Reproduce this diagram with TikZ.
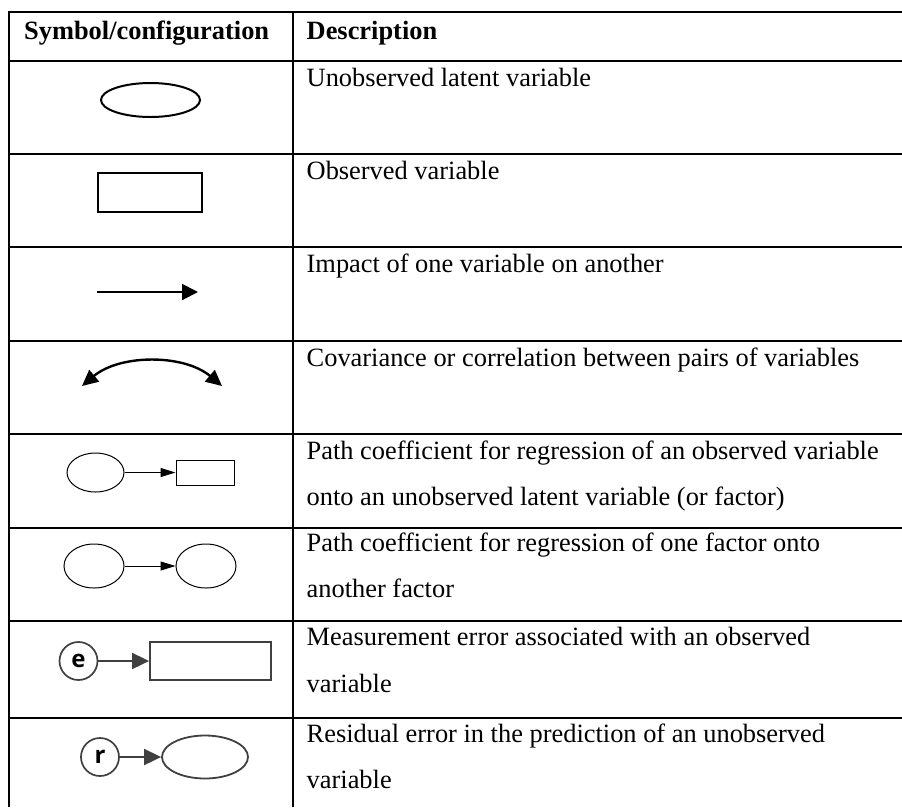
\documentclass[tikz,border=0pt]{standalone}
\usepackage{fontspec}
\setmainfont{Liberation Serif}
\newfontfamily\errfont{Open Sans}
\usetikzlibrary{shapes.geometric,arrows.meta}

\newlength{\du}
\setlength{\du}{1pt}
\definecolor{dialinecolor}{rgb}{0.000000, 0.000000, 0.000000}
\definecolor{errcolor}{rgb}{0.250000, 0.250000, 0.250000}

\tikzset{
  rule/.style={draw=dialinecolor, line width=2\du},
  desc/.style={anchor=base west, inner sep=0pt, font=\fontsize{26.4}{30}\selectfont},
  headtext/.style={desc, font=\fontsize{26.4}{30}\selectfont\bfseries},
  latent/.style={draw=dialinecolor, ellipse, inner sep=0pt},
  observed/.style={draw=dialinecolor, rectangle, inner sep=0pt},
  errnode/.style={draw=errcolor, circle, inner sep=0pt, minimum size=38\du,
    line width=1.7\du, font=\errfont\bfseries\fontsize{24}{24}\selectfont},
  bigtip/.style={line width=2\du, -{Triangle[length=16pt,width=16pt]}},
  thintip/.style={line width=1\du, -{Triangle[length=15pt,width=9pt]}},
  errtip/.style={draw=errcolor, line width=1.8\du,
    -{Triangle[length=17pt,width=16pt]}, errcolor},
}

\begin{document}
\begin{tikzpicture}
\pgftransformxscale{1.000000}
\pgftransformyscale{-1.000000}
\fill[white] (0\du,0\du) rectangle (902\du,807\du);
\useasboundingbox (0\du,0\du) rectangle (902\du,807\du);
% table rules
\draw[rule] (8.5\du,12\du)--(902\du,12\du);
\draw[rule] (8.5\du,61\du)--(902\du,61\du);
\draw[rule] (8.5\du,154\du)--(902\du,154\du);
\draw[rule] (8.5\du,247\du)--(902\du,247\du);
\draw[rule] (8.5\du,341\du)--(902\du,341\du);
\draw[rule] (8.5\du,434\du)--(902\du,434\du);
\draw[rule] (8.5\du,528\du)--(902\du,528\du);
\draw[rule] (8.5\du,621\du)--(902\du,621\du);
\draw[rule] (8.5\du,718\du)--(902\du,718\du);
\draw[rule] (8.5\du,11\du)--(8.5\du,807\du);
\draw[rule] (293.3\du,11\du)--(293.3\du,807\du);
% header
\node[headtext] (hsym) at (24\du,39\du){Symbol/configuration};
\node[headtext] (hdesc) at (306.5\du,39\du){Description};
% descriptions
\node[desc] (d1) at (306.5\du,86\du){Unobserved latent variable};
\node[desc] (d2) at (306.5\du,179\du){Observed variable};
\node[desc] (d3) at (306.5\du,272\du){Impact of one variable on another};
\node[desc] (d4) at (306.5\du,366\du){Covariance or correlation between pairs of variables};
\node[desc] (d5a) at (306.5\du,459\du){Path coefficient for regression of an observed variable};
\node[desc] (d5b) at (306.5\du,505\du){onto an unobserved latent variable (or factor)};
\node[desc] (d6a) at (306.5\du,551\du){Path coefficient for regression of one factor onto};
\node[desc] (d6b) at (306.5\du,597\du){another factor};
\node[desc] (d7a) at (306.5\du,645\du){Measurement error associated with an observed};
\node[desc] (d7b) at (306.5\du,692\du){variable};
\node[desc] (d8a) at (306.5\du,742\du){Residual error in the prediction of an unobserved};
\node[desc] (d8b) at (306.5\du,788\du){variable};
% row 1: latent
\node[latent, line width=2\du, minimum width=99\du, minimum height=34\du] (lat) at (150.5\du,100\du){};
% row 2: observed
\node[observed, line width=1.8\du, minimum width=104\du, minimum height=39\du] (obs) at (150\du,192.5\du){};
% row 3: impact
\coordinate (impa) at (97\du,292\du);
\coordinate (impb) at (198\du,292\du);
\draw[bigtip] (impa)--(impb);
% row 4: covariance
\coordinate (covl) at (82\du,386\du);
\coordinate (covr) at (222\du,386\du);
\draw[line width=2.4\du, {Triangle[length=16pt,width=15pt]}-{Triangle[length=16pt,width=15pt]}]
  (covl) .. controls (120\du,354\du) and (184\du,354\du) .. (covr);
% row 5: factor -> observed
\node[latent, line width=1\du, minimum width=57\du, minimum height=39\du] (fac5) at (95.5\du,472.5\du){};
\node[observed, line width=1\du, minimum width=58\du, minimum height=25\du] (obs5) at (205\du,472.5\du){};
\draw[thintip] (fac5)--(obs5);
% row 6: factor -> factor
\node[latent, line width=1\du, minimum width=60\du, minimum height=44\du] (fac6a) at (94\du,566\du){};
\node[latent, line width=1\du, minimum width=60\du, minimum height=44\du] (fac6b) at (206\du,566\du){};
\draw[thintip] (fac6a)--(fac6b);
% row 7: measurement error
\node[errnode] (err) at (78.5\du,661\du){e};
\node[observed, draw=errcolor, line width=1.8\du, minimum width=121\du, minimum height=38\du] (obs7) at (210.5\du,661\du){};
\draw[errtip] (err)--(obs7);
% row 8: residual error
\node[errnode] (res) at (100\du,757\du){r};
\node[latent, draw=errcolor, line width=1.8\du, minimum width=86\du, minimum height=43\du] (fac8) at (205\du,757\du){};
\draw[errtip] (res)--(fac8);
\end{tikzpicture}
\end{document}
